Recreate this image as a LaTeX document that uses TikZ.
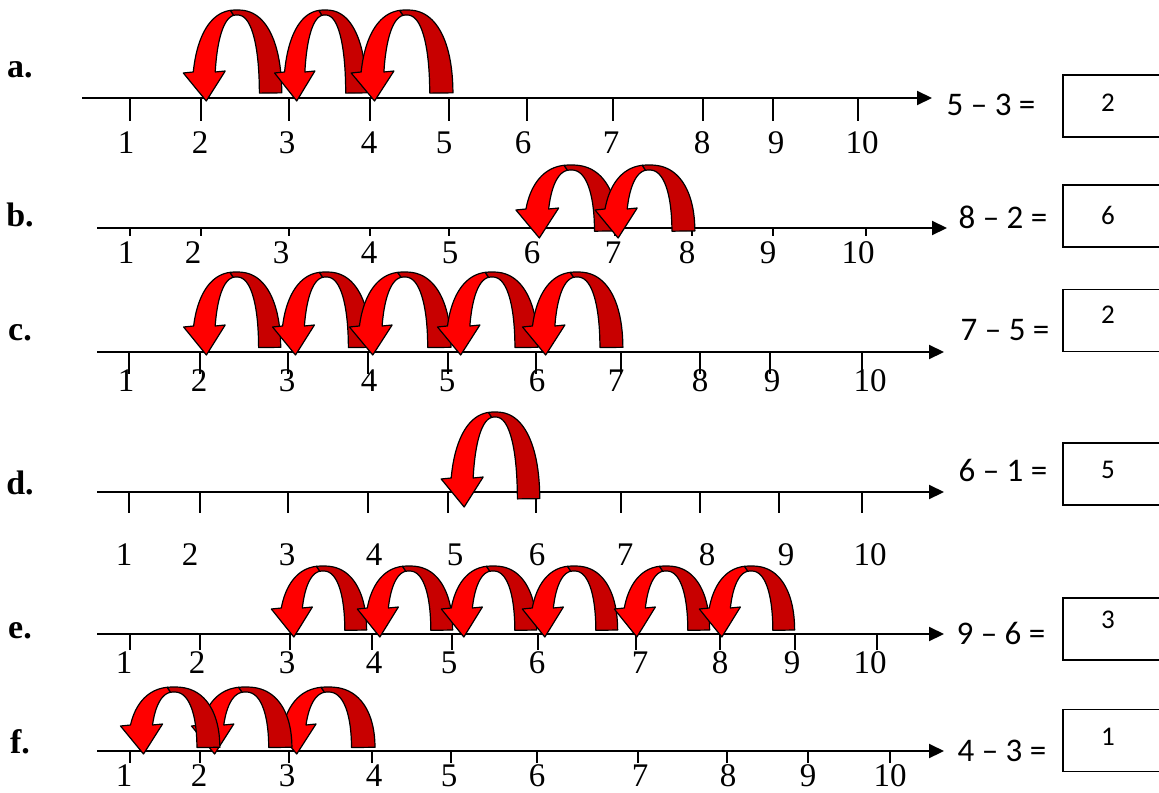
\documentclass[tikz,border=0pt]{standalone}
\usepackage{fontspec}
\setmainfont{Liberation Serif}
\newfontfamily\eqfont{Carlito}
\usetikzlibrary{arrows.meta}

\definecolor{hopbright}{RGB}{255,0,0}
\definecolor{hopdark}{RGB}{200,0,0}

% one backward jump: start x, end x, axis y, height, drop below axis
\newcommand{\hope}{0.85}
\newcommand{\hop}[5]{%
  \pgfmathsetmacro{\hcx}{(#1+#2)/2}%
  \pgfmathsetmacro{\hcy}{#3+#5}%
  \pgfmathsetmacro{\hro}{0.56*(#1-#2)}%
  \pgfmathsetmacro{\hri}{0.28*(#1-#2)}%
  \pgfmathsetmacro{\hhi}{#4-5}%
  \pgfmathsetmacro{\hao}{180-asin(pow(26/#4,1/\hope))}%
  \pgfmathsetmacro{\hai}{180-asin(pow(26/\hhi,1/\hope))}%
  \pgfmathsetmacro{\hobx}{\hcx-\hro*pow(abs(cos(\hao)),\hope)}%
  \pgfmathsetmacro{\hibx}{\hcx-\hri*pow(abs(cos(\hai)),\hope)}%
  \pgfmathsetmacro{\htx}{(\hobx+\hibx)/2+2}%
  \pgfmathsetmacro{\hty}{\hcy+3}%
  \filldraw[hopface]
    plot[domain=96:\hao, samples=30, variable=\a]
      ({\hcx+\hro*sign(cos(\a))*pow(abs(cos(\a))+0.0001,\hope)},{\hcy-#4*pow(abs(sin(\a))+0.0001,\hope)})
    -- ++(-10,1) -- (\htx,\hty) -- ({\hibx+10},{\hcy-27})
    -- plot[domain=\hai:96, samples=30, variable=\a]
      ({\hcx+\hri*sign(cos(\a))*pow(abs(cos(\a))+0.0001,\hope)},{\hcy-\hhi*pow(abs(sin(\a))+0.0001,\hope)})
    -- cycle;
  \filldraw[hopback]
    plot[domain=2:96, samples=30, variable=\a]
      ({\hcx+\hro*sign(cos(\a))*pow(abs(cos(\a))+0.0001,\hope)},{\hcy-#4*pow(abs(sin(\a))+0.0001,\hope)})
    -- plot[domain=96:2, samples=30, variable=\a]
      ({\hcx+\hri*sign(cos(\a))*pow(abs(cos(\a))+0.0001,\hope)},{\hcy-\hhi*pow(abs(sin(\a))+0.0001,\hope)})
    -- cycle;
}

\begin{document}
\begin{tikzpicture}[
  x=0.5pt, y=-0.5pt,
  numline/.style={line width=1pt, -{Triangle[length=7.5pt,width=7pt]}},
  tickmark/.style={line width=0.8pt},
  numlab/.style={font=\fontsize{16.5}{18}\selectfont, inner sep=0pt},
  rowlab/.style={font=\fontsize{17}{19}\selectfont\bfseries, inner sep=0pt},
  eqlab/.style={font=\eqfont\fontsize{16.5}{18}\selectfont, inner sep=0pt},
  anslab/.style={font=\eqfont\fontsize{13.5}{15}\selectfont, inner sep=0pt},
  ansbox/.style={draw, line width=0.6pt, minimum width=56pt, minimum height=31pt, inner sep=0pt},
  hopface/.style={fill=hopbright, draw=black, line width=0.6pt, line join=round},
  hopback/.style={fill=hopdark, draw=black, line width=0.6pt, line join=round}
]
  \useasboundingbox (0,0) rectangle (1159,792);
  \clip (0,0) rectangle (1159,792);

  % a.
  \node[rowlab] (rowa) at (20,70) {a.};
  \coordinate (a0) at (82,98);
  \coordinate (a1) at (932,98);
  \draw[numline] (a0) -- (a1);
  \foreach \n/\x/\lx in {1/130/126, 2/201/200, 3/289/287, 4/370/369, 5/449/444,
                         6/527/523, 7/613/611, 8/703/702, 9/773/776, 10/858/862}{
    \draw[tickmark] (\x,98) -- (\x,121);
    \node[numlab] (a-\n) at (\lx,143) {\n};
  }
  \hop{277}{197}{98}{88}{0}
  \hop{362}{288}{98}{88}{0}
  \hop{448}{365}{98}{88}{0}
  \node[eqlab] (eqa) at (991,105) {5 – 3 =};
  \node[ansbox] (boxa) at (1119,106) {};
  \node[anslab] (ansa) at (1108,103) {2};

  % b.
  \node[rowlab] (rowb) at (20,215) {b.};
  \coordinate (b0) at (97,228);
  \coordinate (b1) at (947,228);
  \draw[numline] (b0) -- (b1);
  \foreach \n/\x/\lx in {1/130/126, 2/201/193, 3/289/281, 4/370/369, 5/449/450,
                         6/538/532, 7/615/613, 8/692/687, 9/773/768, 10/866/858}{
    \draw[tickmark] (\x,228) -- (\x,236);
    \node[numlab] (b-\n) at (\lx,253) {\n};
  }
  \hop{613}{529}{228}{70}{7}
  \hop{690}{608}{228}{70}{7}
  \node[eqlab] (eqb) at (1003,217) {8 – 2 =};
  \node[ansbox] (boxb) at (1119,216) {};
  \node[anslab] (ansb) at (1108,215) {6};

  % c.
  \node[rowlab] (rowc) at (20,333) {c.};
  \coordinate (c0) at (97,352);
  \coordinate (c1) at (944,352);
  \draw[numline] (c0) -- (c1);
  \foreach \n/\x/\lx in {1/129/126, 2/200/199, 3/288/287, 4/368/369, 5/448/447,
                         6/536/537, 7/621/616, 8/700/700, 9/770/772, 10/862/870}{
    \draw[tickmark] (\x,352) -- (\x,374);
    \node[numlab] (c-\n) at (\lx,381) {\n};
  }
  \hop{276}{197}{352}{80}{0}
  \hop{366}{286}{352}{80}{0}
  \hop{446}{363}{352}{80}{0}
  \hop{533}{451}{352}{80}{0}
  \hop{618}{536}{352}{80}{0}
  \node[eqlab] (eqc) at (1005,330) {7 – 5 =};
  \node[ansbox] (boxc) at (1119,320.5) {};
  \node[anslab] (ansc) at (1108,315) {2};

  % d.
  \node[rowlab] (rowd) at (20,483) {d.};
  \coordinate (d0) at (97,492);
  \coordinate (d1) at (944,492);
  \draw[numline] (d0) -- (d1);
  \foreach \n/\x/\lx in {1/129/124, 2/200/190, 3/288/287, 4/368/374, 5/448/455,
                         6/536/537, 7/621/625, 8/700/707, 9/779/786, 10/862/870}{
    \draw[tickmark] (\x,492) -- (\x,513);
    \node[numlab] (d-\n) at (\lx,555) {\n};
  }
  \hop{535}{455}{492}{92}{12}
  \node[eqlab] (eqd) at (1003,470) {6 – 1 =};
  \node[ansbox] (boxd) at (1119,474) {};
  \node[anslab] (ansd) at (1108,470) {5};

  % e.
  \node[rowlab] (rowe) at (20,631) {e.};
  \coordinate (e0) at (97,634);
  \coordinate (e1) at (944,634);
  \draw[numline] (e0) -- (e1);
  \foreach \n/\x/\lx in {1/130/124, 2/200/197, 3/290/287, 4/372/374, 5/452/449,
                         6/538/537, 7/636/640, 8/720/720, 9/795/792, 10/877/870}{
    \draw[tickmark] (\x,634) -- (\x,650);
    \node[numlab] (e-\n) at (\lx,663) {\n};
  }
  \hop{362}{284}{634}{68}{0}
  \hop{448}{370}{634}{68}{0}
  \hop{532}{454}{634}{68}{0}
  \hop{613}{535}{634}{68}{0}
  \hop{705}{627}{634}{68}{0}
  \hop{790}{712}{634}{68}{0}
  \node[eqlab] (eqe) at (1001,633) {9 – 6 =};
  \node[ansbox] (boxe) at (1119,629) {};
  \node[anslab] (anse) at (1108,620) {3};

  % f.
  \node[rowlab] (rowf) at (20,742) {f.};
  \coordinate (f0) at (97,751);
  \coordinate (f1) at (944,751);
  \draw[numline] (f0) -- (f1);
  \foreach \n/\x/\lx in {1/130/124, 2/200/199, 3/289/287, 4/372/374, 5/451/449,
                         6/537/537, 7/638/640, 8/727/728, 9/808/808, 10/890/890}{
    \draw[tickmark] (\x,751) -- (\x,763);
    \node[numlab] (f-\n) at (\lx,776) {\n};
  }
  \hop{370}{286}{751}{64}{0}
  \hop{287}{204}{751}{64}{0}
  \hop{215}{133}{751}{64}{0}
  \node[eqlab] (eqf) at (1002,751) {4 – 3 =};
  \node[ansbox] (boxf) at (1119,740.5) {};
  \node[anslab] (ansf) at (1108,737) {1};
\end{tikzpicture}
\end{document}
